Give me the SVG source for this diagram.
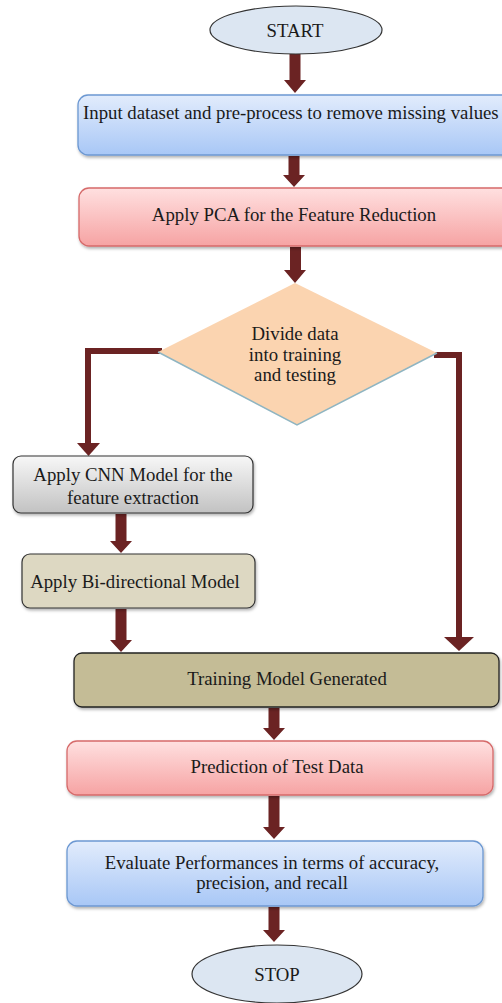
<svg xmlns="http://www.w3.org/2000/svg" width="502" height="1003" viewBox="0 0 502 1003">
<defs>
<linearGradient id="gBlue" x1="0" y1="0" x2="0" y2="1"><stop offset="0" stop-color="#e2ecfc"/><stop offset="1" stop-color="#a8c7f6"/></linearGradient>
<linearGradient id="gPink" x1="0" y1="0" x2="0" y2="1"><stop offset="0" stop-color="#ffe0e0"/><stop offset="1" stop-color="#f6a3a3"/></linearGradient>
<linearGradient id="gGray" x1="0" y1="0" x2="0" y2="1"><stop offset="0" stop-color="#f7f7f7"/><stop offset="1" stop-color="#c2c2c2"/></linearGradient>
<filter id="sh" x="-5%" y="-10%" width="112%" height="130%"><feDropShadow dx="1" dy="2" stdDeviation="1.5" flood-color="#000" flood-opacity="0.3"/></filter>
</defs>
<style>
text{font-family:"Liberation Serif","Times New Roman",serif;font-size:18.8px;fill:#1a1a1a;text-anchor:middle}
.blue{fill:url(#gBlue);stroke:#6c98d2;stroke-width:1.3}
.pink{fill:url(#gPink);stroke:#d66a6a;stroke-width:1.3}
.ell{fill:#dce6f2;stroke:#333;stroke-width:1.2}
.arr{fill:#6b2323}
.ln{fill:none;stroke:#6b2323;stroke-width:6}
</style>
<g id="connectors">
<polygon class="arr" points="289.5,54 300.5,54 300.5,80 306,80 295,93 284,80 289.5,80"/>
<polygon class="arr" points="288.5,156 299.5,156 299.5,175 305,175 294,187 283,175 288.5,175"/>
<polygon class="arr" points="290,247 301,247 301,270 306,270 295,283 284,270 290,270"/>
<polygon class="arr" points="115.5,514 126.5,514 126.5,541 132,541 121,553 110,541 115.5,541"/>
<polygon class="arr" points="115.5,609 126.5,609 126.5,640 132,640 121,652 110,640 115.5,640"/>
<polygon class="arr" points="268.5,708 279.5,708 279.5,728 285,728 274,740 263,728 268.5,728"/>
<polygon class="arr" points="268.5,796 279.5,796 279.5,827 285,827 274,839 263,827 268.5,827"/>
<polygon class="arr" points="268.5,907 279.5,907 279.5,930 285,930 274,942 263,930 268.5,930"/>
<polyline class="ln" points="162,351 88,351 88,444"/>
<polygon class="arr" points="77,443 100,443 88.5,456"/>
<polyline class="ln" points="434,355 459,355 459,638"/>
<polygon class="arr" points="444,637 474,637 459,651"/>
</g>
<g id="start"><ellipse class="ell" cx="296" cy="30" rx="86" ry="24"/><text x="295" y="37">START</text></g>
<g id="input"><rect class="blue" filter="url(#sh)" x="78" y="95" width="440" height="60" rx="10"/><text x="83" y="119" style="text-anchor:start">Input dataset  and pre-process to remove missing values</text></g>
<g id="pca"><rect class="pink" filter="url(#sh)" x="79" y="188" width="440" height="58" rx="10"/><text x="294" y="221">Apply PCA for the Feature Reduction</text></g>
<g id="divide"><polygon points="295,283 437,353 297,425 158,352" fill="#fbd4b0"/><polyline points="437,353 297,425 158,352" fill="none" stroke="#8fb5c2" stroke-width="1.5"/><text x="295" y="340">Divide data</text><text x="295" y="361">into training</text><text x="295" y="381">and testing</text></g>
<g id="cnn"><rect filter="url(#sh)" x="13" y="456" width="240" height="57" rx="8" fill="url(#gGray)" stroke="#333" stroke-width="1.2"/><text x="133" y="481">Apply CNN Model for the</text><text x="133" y="504">feature extraction</text></g>
<g id="bi"><rect filter="url(#sh)" x="22" y="554" width="233" height="54" rx="8" fill="#ddd8c2" stroke="#333" stroke-width="1.2"/><text x="135" y="588">Apply Bi-directional Model</text></g>
<g id="training"><rect filter="url(#sh)" x="74" y="653" width="425" height="54" rx="8" fill="#c4bc96" stroke="#222" stroke-width="1.3"/><text x="287" y="685">Training Model Generated</text></g>
<g id="prediction"><rect class="pink" filter="url(#sh)" x="67" y="741" width="426" height="54" rx="10"/><text x="277" y="773">Prediction of Test Data</text></g>
<g id="evaluate"><rect class="blue" filter="url(#sh)" x="67" y="841" width="416" height="65" rx="10"/><text x="272" y="869">Evaluate  Performances  in terms  of accuracy,</text><text x="272" y="889">precision, and recall</text></g>
<g id="stop"><ellipse class="ell" cx="277" cy="974" rx="85" ry="29"/><text x="277" y="981">STOP</text></g>
</svg>
